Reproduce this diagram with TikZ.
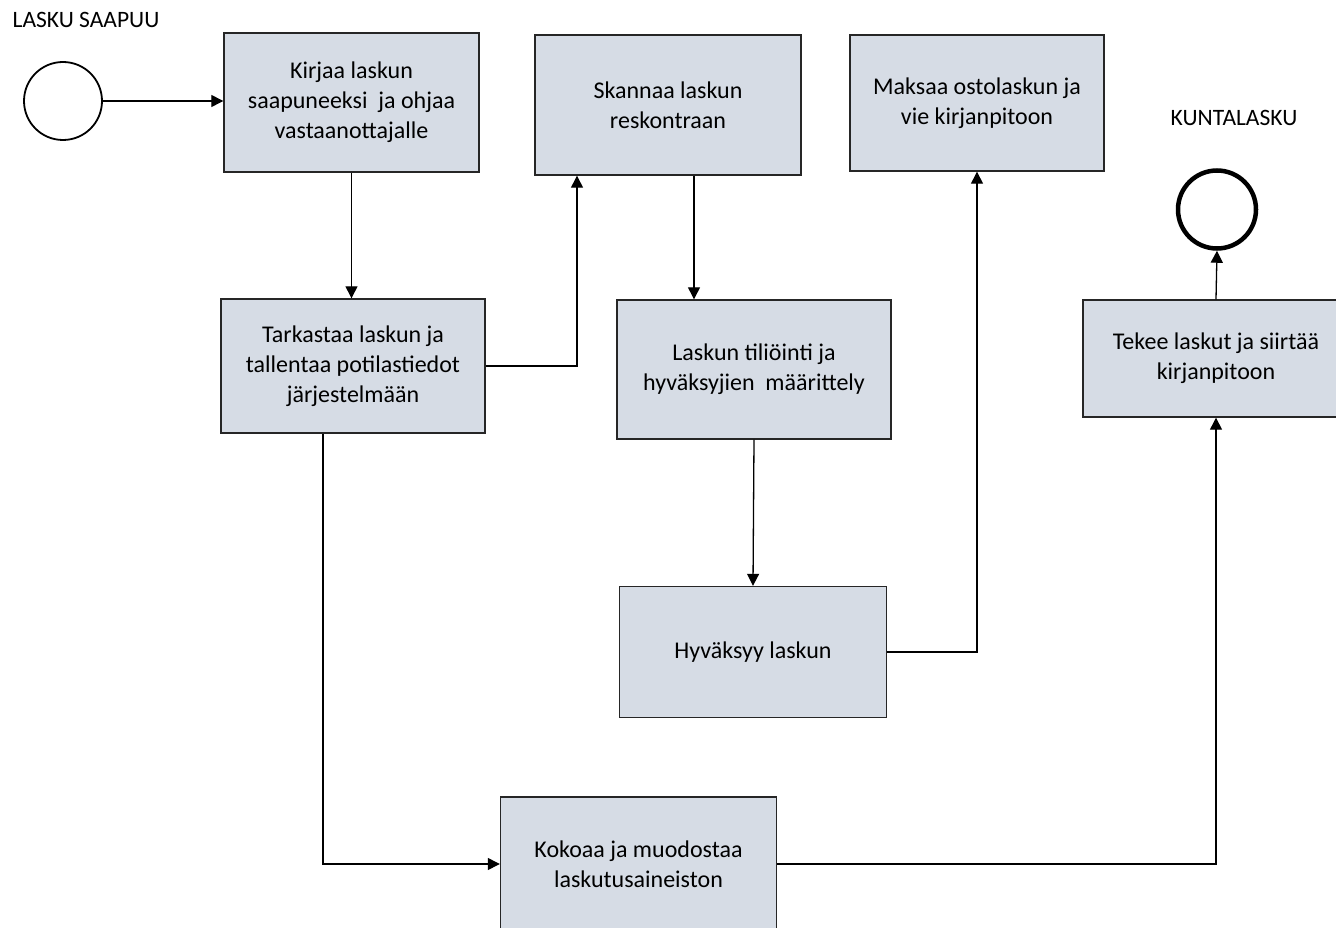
\documentclass[tikz,border=0pt]{standalone}
\usepackage{fontspec}
\setmainfont{Carlito}
\usetikzlibrary{arrows.meta}
\usepackage{xcolor}
\definecolor{boxfill}{HTML}{D6DCE5}
\definecolor{boxline}{HTML}{262626}

\tikzset{
  taskbox/.style={draw=boxline, line width=1.4pt, rectangle, fill=boxfill, align=center,
    font=\fontsize{24}{30}\selectfont},
  flow/.style={line width=1.3pt, -{Triangle[length=12pt,width=12pt]}},
  eventlabel/.style={font=\fontsize{23.5}{28}\selectfont},
}

\begin{document}
\begin{tikzpicture}[x=1pt, y=-1pt]
    \useasboundingbox (0,0) rectangle (1336,928);

    \node[eventlabel] (startlabel) at (86,20) {LASKU SAAPUU};
    \node[draw, line width=1.8pt, circle, minimum size=78pt, inner sep=0pt] (start) at (63,101) {};
    \node[eventlabel] (endlabel) at (1234,118) {KUNTALASKU};
    \node[draw, line width=4.5pt, circle, minimum size=78pt, inner sep=0pt] (end) at (1217,209.5) {};

    \node[taskbox, minimum width=255pt, minimum height=139pt] (A) at (351.5,102.5) {Kirjaa laskun\\saapuneeksi\ \ ja ohjaa\\vastaanottajalle};
    \node[taskbox, minimum width=266pt, minimum height=140pt] (B) at (668,105) {Skannaa laskun\\reskontraan};
    \node[taskbox, minimum width=254pt, minimum height=136pt] (C) at (977,103) {Maksaa ostolaskun ja\\vie kirjanpitoon};
    \node[taskbox, minimum width=264pt, minimum height=134pt] (D) at (353,366) {Tarkastaa laskun ja\\tallentaa potilastiedot\\järjestelmään};
    \node[taskbox, minimum width=274pt, minimum height=139pt] (E) at (754,369.5) {Laskun tiliöinti ja\\hyväksyjien\ \ määrittely};
    \node[taskbox, minimum width=266pt, minimum height=117pt] (F) at (1216,358.5) {Tekee laskut ja siirtää\\kirjanpitoon};
    \node[taskbox, minimum width=267pt, minimum height=131pt] (G) at (753,652) {Hyväksyy laskun};
    \node[taskbox, minimum width=276pt, minimum height=134pt] (H) at (638.5,864) {Kokoaa ja muodostaa\\laskutusaineiston};

    \draw[flow] (start.east) -- (start.east -| A.west);
    \draw[flow] (A.south) -- (A.south |- D.north);
    \draw[flow] (D.east) -| ([xshift=-91pt]B.south);
    \draw[flow] ([xshift=26pt]B.south) -- ([xshift=26pt]B.south |- E.north);
    \draw[flow] (E.south) -- (G.north);
    \draw[flow] (G.east) -| (C.south);
    \draw[flow] ([xshift=-30pt]D.south) |- (H.west);
    \draw[flow] (H.east) -| (F.south);
    \draw[flow] (F.north) -- (end.south);
  \end{tikzpicture}
\end{document}
